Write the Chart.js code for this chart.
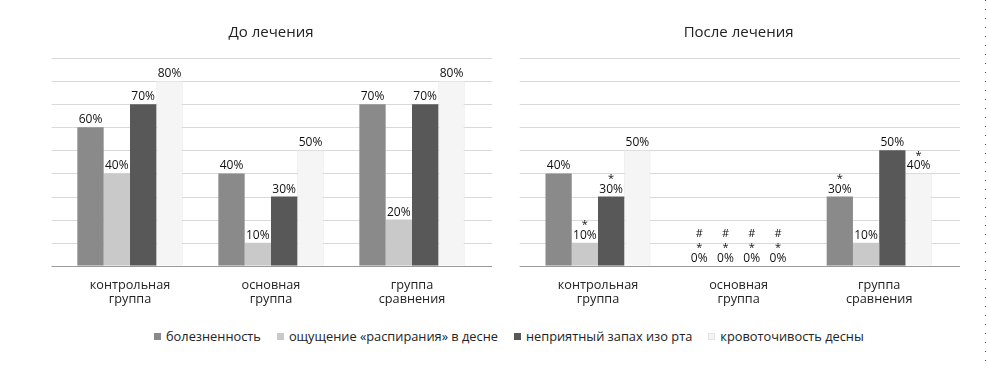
<!DOCTYPE html>
<html><head><meta charset="utf-8">
<script src="https://cdn.jsdelivr.net/npm/chart.js@4/dist/chart.umd.min.js"></script>
<style>
html,body{margin:0;padding:0;background:#fff;}
#wrap{position:relative;width:988px;height:368px;overflow:hidden;font-family:"Open Sans",sans-serif;}
#c1{position:absolute;left:0;top:0;}
#c2{position:absolute;left:494px;top:0;}
#legend{position:absolute;left:154px;top:327px;display:flex;font-size:12.8px;color:#222;white-space:nowrap;}
#legend .it{display:flex;align-items:center;margin-right:16px;}
#legend .sw{width:7px;height:7px;margin-right:5px;box-sizing:border-box;}
.dots{position:absolute;left:985px;top:0;width:1px;height:368px;background:repeating-linear-gradient(to bottom,#444 0 1px,transparent 1px 9px);}
</style></head>
<body>
<div id="wrap">
<canvas id="c1" width="494" height="320"></canvas>
<canvas id="c2" width="494" height="320"></canvas>
<div id="legend"></div>
<div class="dots"></div>
</div>
<script>
// ---- data ----
const categories = [["контрольная","группа"],["основная","группа"],["группа","сравнения"]];
const seriesNames = ["болезненность","ощущение «распирания» в десне","неприятный запах изо рта","кровоточивость десны"];
const seriesColors = ["#8a8a8a","#c9c9c9","#585858","#f5f5f5"];
const gridValues = [0,10,20,30,40,50,60,70,80,90];

const beforePain   = [60, 40, 70];
const beforeSwell  = [40, 10, 20];
const beforeOdor   = [70, 30, 70];
const beforeBleed  = [80, 50, 80];

const afterPain    = [40, 0, 30];
const afterSwell   = [10, 0, 10];
const afterOdor    = [30, 0, 50];
const afterBleed   = [50, 0, 40];

// annotation lines above each "after" label (top to bottom)
const afterPainMarks  = [[], ["#","*"], ["*"]];
const afterSwellMarks = [["*"], ["#","*"], []];
const afterOdorMarks  = [["*"], ["#","*"], []];
const afterBleedMarks = [[], ["#","*"], ["*"]];

const FONT = "'Open Sans', sans-serif";

const gridPlugin = {
  id:'gridExt',
  beforeDatasetsDraw(chart, args, opts){
    const {ctx, chartArea} = chart; const y = chart.scales.y;
    ctx.save();
    gridValues.forEach(v=>{
      if(v===0) return;
      const py = Math.round(y.getPixelForValue(v))+0.5;
      ctx.strokeStyle='#d9d9d9'; ctx.lineWidth=1;
      ctx.beginPath(); ctx.moveTo(chartArea.left-opts.extL, py); ctx.lineTo(chartArea.right+opts.extR, py); ctx.stroke();
    });
    ctx.restore();
  },
  afterDatasetsDraw(chart, args, opts){
    const {ctx, chartArea} = chart; const y = chart.scales.y;
    const py = Math.round(y.getPixelForValue(0))+0.5;
    ctx.save(); ctx.strokeStyle='#9a9a9a'; ctx.lineWidth=1;
    ctx.beginPath(); ctx.moveTo(chartArea.left-opts.extL, py); ctx.lineTo(chartArea.right+opts.extR, py); ctx.stroke();
    ctx.restore();
  }
};

const labelPlugin = {
  id:'valLabels',
  afterDatasetsDraw(chart){
    const ctx = chart.ctx;
    ctx.save();
    ctx.fillStyle='#111'; ctx.textAlign='center'; ctx.textBaseline='alphabetic';
    chart.data.datasets.forEach((ds, di)=>{
      const meta = chart.getDatasetMeta(di);
      meta.data.forEach((bar, i)=>{
        const v = ds.data[i];
        let by = bar.y - 4;
        ctx.font = "12px " + FONT;
        ctx.fillText(v + "%", bar.x, by);
        const marks = (ds.marks && ds.marks[i]) || [];
        let yy = by;
        for(let k = marks.length-1; k>=0; k--){
          const m = marks[k];
          yy -= (m === "*") ? 10.5 : 14;
          ctx.font = "11px " + FONT;
          ctx.fillText(m, bar.x, yy);
        }
      });
    });
    ctx.restore();
  }
};

function makeDatasets(vals, marks){
  return vals.map((d, k)=>({
    label: seriesNames[k], data: d, backgroundColor: seriesColors[k],
    borderColor: k===3 ? '#e4e4e4' : seriesColors[k], borderWidth: k===3 ? 1 : 0,
    barPercentage: 1, categoryPercentage: 0.747, marks: marks ? marks[k] : null
  }));
}

function makeChart(id, title, vals, marks, padL, padR, extL, extR){
  return new Chart(document.getElementById(id), {
    type:'bar',
    data:{labels:categories, datasets:makeDatasets(vals, marks)},
    options:{
      responsive:false, animation:false, devicePixelRatio:1,
      layout:{padding:{left:padL, right:padR, top:0, bottom:9}},
      plugins:{
        legend:{display:false}, tooltip:{enabled:false},
        title:{display:true, text:title, color:'#222', font:{family:FONT, size:15, weight:'normal'}, padding:{top:24, bottom:16}},
        gridExt:{extL:extL, extR:extR}
      },
      scales:{
        x:{grid:{display:false}, border:{display:false},
           ticks:{color:'#222', font:{family:FONT, size:12.7, lineHeight:1.15}, padding:4, maxRotation:0, autoSkip:false}},
        y:{display:false, min:0, max:90}
      }
    },
    plugins:[gridPlugin, labelPlugin]
  });
}

makeChart('c1', 'До лечения', [beforePain, beforeSwell, beforeOdor, beforeBleed], null, 59.5, 11.5, 8, 9.5);
makeChart('c2', 'После лечения', [afterPain, afterSwell, afterOdor, afterBleed],
          [afterPainMarks, afterSwellMarks, afterOdorMarks, afterBleedMarks], 33.7, 38.5, 8, 10.5);

// legend
const lg = document.getElementById('legend');
seriesNames.forEach((n,k)=>{
  const it = document.createElement('div'); it.className='it';
  const sw = document.createElement('div'); sw.className='sw'; sw.style.background=seriesColors[k];
  if(k===3) sw.style.border='1px solid #e4e4e4';
  const tx = document.createElement('span'); tx.textContent=n;
  it.appendChild(sw); it.appendChild(tx); lg.appendChild(it);
});
</script>
</body></html>
